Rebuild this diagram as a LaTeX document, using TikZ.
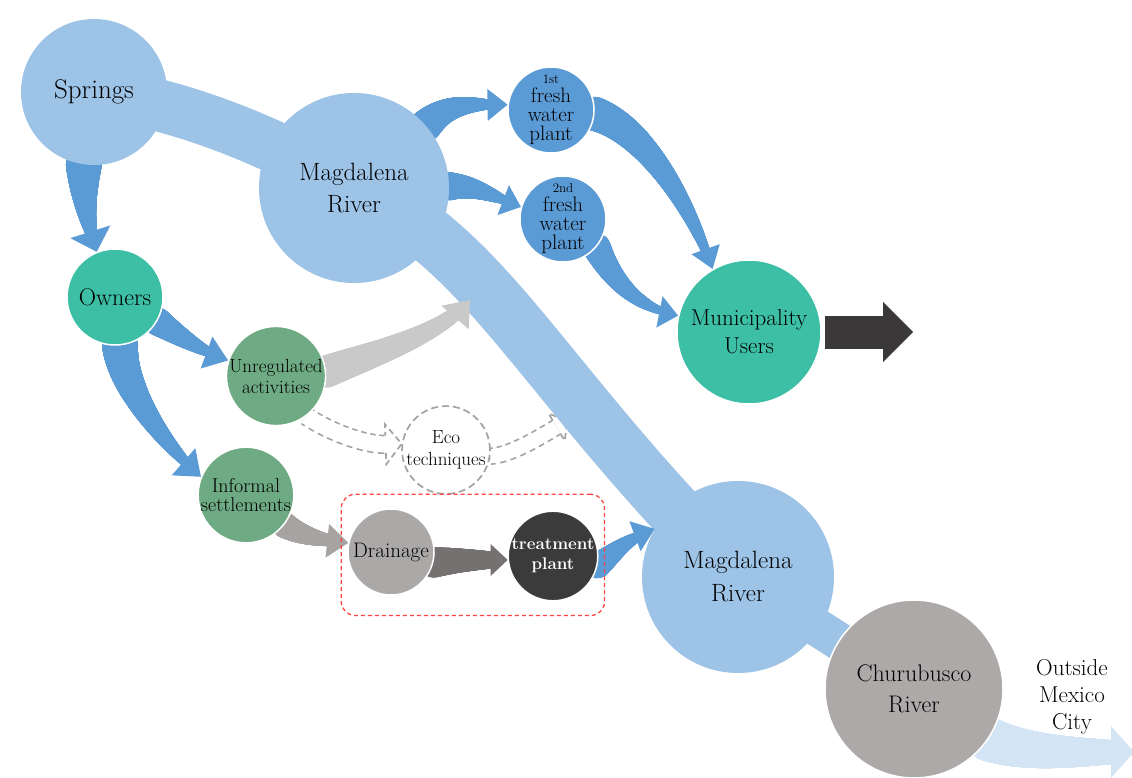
\documentclass[tikz,border=0pt]{standalone}
\usetikzlibrary{decorations.markings,calc,fit}

\definecolor{riverblue}{HTML}{9DC3E6}
\definecolor{flowblue}{HTML}{5B9BD5}
\definecolor{tealc}{HTML}{3DBFA5}
\definecolor{greenc}{HTML}{6EAA83}
\definecolor{draingray}{HTML}{ABA8A8}
\definecolor{trtdark}{HTML}{3B3B3B}
\definecolor{chugray}{HTML}{ADA9A9}
\definecolor{lightgrayarr}{HTML}{C9C9C9}
\definecolor{midgrayarr}{HTML}{A7A3A3}
\definecolor{darkgrayarr}{HTML}{767171}
\definecolor{blackarr}{HTML}{3A3838}
\definecolor{ecogray}{HTML}{A3A3A3}
\definecolor{redbox}{HTML}{FF4545}
\definecolor{outblue}{HTML}{D3E4F4}

\pgfdeclarelayer{paper}
\pgfdeclarelayer{flow}
\pgfsetlayers{paper,flow,main}

\newcommand\fsz[2]{\fontsize{#1}{#2}\selectfont}

\tikzset{
  bubble/.style={circle, inner sep=0pt, minimum size=#1, align=center},
  rim/.style={draw=white, line width=1.5pt},
  % tapered shaft: tail width, neck width, head length, colour
  flowshaft/.style n args={4}{%
    decoration={markings,
      mark=between positions 0 and 1 step 0.5pt with {%
        \pgfmathsetmacro\flowfrac{(\pgfkeysvalueof{/pgf/decoration/mark info/distance from start})/(\pgfdecoratedpathlength-#3)}%
        \ifdim\flowfrac pt<1pt
          \pgfmathsetmacro\flowrad{(#1+(#2-#1)*\flowfrac)/2}%
          \fill[#4] (0,0) circle[radius=\flowrad];
        \fi
      }
    },
    decorate
  },
  % triangular head at the end of the path: head length, head width, colour
  flowhead/.style n args={3}{%
    decoration={markings,
      mark=at position 0.9999 with {\fill[#3] (-#1-1,#2/2) -- (0,0) -- (-#1-1,-#2/2) -- cycle;}
    },
    decorate
  }
}

% tapered curved arrow: tail width, neck width, head length, head width, colour, path
\newcommand\flowpath[6]{%
  \path[flowshaft={#1}{#2}{#3}{#5}] #6;
  \path[flowhead={#3}{#4}{#5}] #6;
}

% dashed outline arrow: start, control 1, control 2, end, gap, head length, head width
\newcommand\ecoflow[7]{%
  \draw[draw=ecogray, line width=1.7pt, double=white, double distance=#5pt, shorten >=#6pt]
    #1 .. controls #2 and #3 .. #4;
  \draw[white, line width=#5pt+7pt, dash pattern=on 4pt off 6pt, dash phase=6pt, shorten >=#6pt-1pt]
    #1 .. controls #2 and #3 .. #4;
  \path[decorate, decoration={markings, mark=at position 0.9999 with {%
      \draw[ecogray, line width=1.7pt, dash pattern=on 6pt off 4pt]
        (-#6,{#5/2+0.8}) -- (-#6,#7/2) -- (0,0) -- (-#6,-#7/2) -- (-#6,{-#5/2-0.8});}}]
    #1 .. controls #2 and #3 .. #4;
}

\begin{document}
\begin{tikzpicture}[x=1pt,y=-1pt]
\begin{pgfonlayer}{paper}
  \fill[white] (0,0) rectangle (1132,778);
\end{pgfonlayer}
\useasboundingbox (0,0) rectangle (1132,778);

% river stations and users
\node[bubble=146pt, fill=riverblue, font=\fsz{27}{32}] (spr) at (94,92) {Springs};
\node[bubble=190pt, fill=riverblue, font=\fsz{25}{32}] (mag1) at (354,188) {Magdalena\\River};
\node[bubble=86pt, fill=flowblue, rim, font=\fsz{21}{19}] (pl1) at (551,110) {{\fsz{13}{13}1st}\\fresh\\water\\plant};
\node[bubble=86pt, fill=flowblue, rim, font=\fsz{21}{19}] (pl2) at (563,219) {{\fsz{13}{13}2nd}\\fresh\\water\\plant};
\node[bubble=144pt, fill=tealc, rim, font=\fsz{23}{28}] (mun) at (749,332) {Municipality\\Users};
\node[bubble=96pt, fill=tealc, rim, font=\fsz{24}{28}] (own) at (115,297) {Owners};
\node[bubble=86pt, fill=greenc, rim, font=\fsz{19}{21}] (unr) at (276,376) {Unregulated\\activities};
\node[bubble=86pt, fill=greenc, rim, font=\fsz{20}{19}] (inf) at (246,495) {Informal\\settlements};
\node[bubble=76pt, draw=ecogray, line width=1.7pt, dash pattern=on 7pt off 4pt, font=\fsz{19}{22}] (eco) at (446,450) {Eco\\techniques};
\node[bubble=86pt, fill=draingray, rim, font=\fsz{21}{24}] (dra) at (391,552) {Drainage};
\node[bubble=84pt, fill=trtdark, rim, text=white, font=\bfseries\fsz{17}{20}] (trt) at (553,556) {treatment\\plant};
\node[bubble=192pt, fill=riverblue, font=\fsz{25}{33}] (mag2) at (738,577) {Magdalena\\River};
\node[bubble=178pt, fill=chugray, rim, font=\fsz{24}{31}] (chu) at (914,689) {Churubusco\\River};
\node[font=\fsz{23}{27}, align=center] (out) at (1072,697) {Outside\\Mexico\\City};
\node[draw=redbox, line width=1.3pt, dash pattern=on 4pt off 3pt, rounded corners=14pt,
      fit=(dra)(trt), inner xsep=6pt, inner ysep=14pt] (grp) {};

\coordinate (unrout) at (470,300);
\coordinate (ecoout) at (567,421);
\coordinate (mexit) at (913,332);
\coordinate (cityout) at (1134,752);

\begin{pgfonlayer}{flow}
  % eco techniques
  \ecoflow{(unr.-53)}{(330,432)}{(365,445)}{(eco.172)}{16}{16}{40}
  \ecoflow{(eco.-8)}{(510,455)}{(535,440)}{(ecoout)}{14}{12}{32}

  % main river course
  \draw[riverblue, line width=52pt] (spr.center) .. controls (180,105) and (260,135) .. (mag1.center);
  \draw[riverblue, line width=56pt] (mag1.center) .. controls (490,250) and (540,380) .. (mag2.center);
  \draw[riverblue, line width=38pt] (mag2.center) -- (chu.center);

  % water supply
  \flowpath{36}{12}{20}{42}{flowblue}{(spr.262) .. controls (83,195) and (86,218) .. (own.112)}
  \flowpath{28}{10}{22}{34}{flowblue}{(own.-30) .. controls (185,340) and (205,352) .. (unr.162)}
  \flowpath{36}{10}{22}{36}{flowblue}{(own.-84) .. controls (122,390) and (170,450) .. (inf.158)}
  \flowpath{32}{10}{19}{32}{flowblue}{(mag1.41) .. controls (450,100) and (480,105) .. (pl1.173)}
  \flowpath{28}{9}{18}{32}{flowblue}{(mag1.1) .. controls (475,185) and (495,197) .. (pl2.164)}
  \flowpath{34}{9}{20}{30}{flowblue}{(pl1.-5) .. controls (645,130) and (690,205) .. (mun.120)}
  \flowpath{28}{8}{18}{32}{flowblue}{(pl2.-40) .. controls (615,285) and (640,308) .. (mun.167)}
  \flowpath{26}{10}{20}{32}{flowblue}{(trt.-12) .. controls (612,555) and (625,540) .. (mag2.150)}

  % discharges
  \flowpath{32}{14}{22}{36}{lightgrayarr}{(unr.5) .. controls (370,355) and (440,335) .. (unrout)}
  \flowpath{26}{12}{20}{34}{midgrayarr}{(inf.-38) .. controls (300,535) and (320,540) .. (dra.168)}
  \flowpath{30}{17}{16}{32}{darkgrayarr}{(dra.-14) .. controls (455,560) and (475,560) .. (trt.185)}
  \flowpath{44}{24}{22}{52}{outblue}{(chu.-34) .. controls (1030,755) and (1080,752) .. (cityout)}

  % municipal outflow
  \draw[blackarr, line width=33pt] ($(mun.east)+(3,0)$) -- ($(mexit)+(-29,0)$);
  \fill[blackarr] ($(mexit)+(-30,-30)$) -- (mexit) -- ($(mexit)+(-30,30)$) -- cycle;
\end{pgfonlayer}
\end{tikzpicture}
\end{document}
